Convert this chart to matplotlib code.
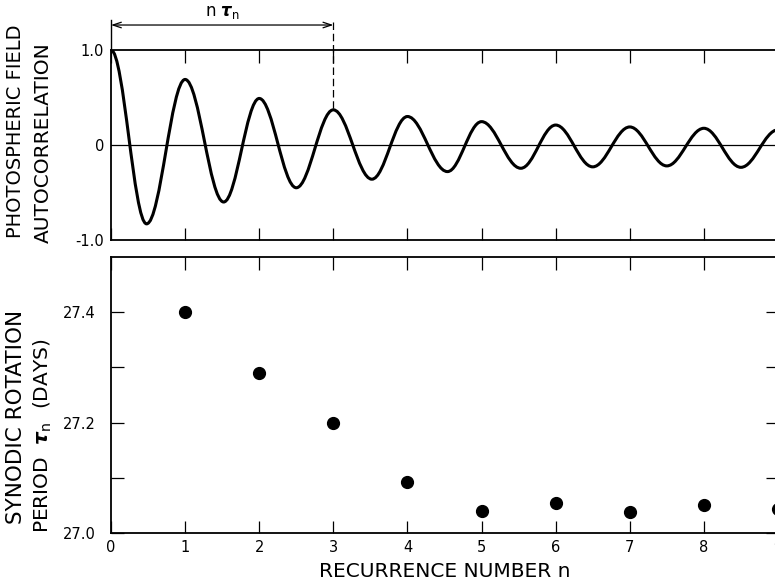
#!/usr/bin/env python

import numpy as np
import matplotlib.pyplot as plt
from matplotlib.path import Path
from matplotlib.patches import PathPatch

# autocorrelation: extrema of the curve (lag in rotations, value)
lag_ext = [0, 0.48, 1, 1.52, 2, 2.5, 3, 3.52, 4, 4.54, 5, 5.53, 6, 6.5, 7, 7.5, 8, 8.5, 9]
corr_ext = [1.0, -0.83, 0.69, -0.60, 0.49, -0.45, 0.37, -0.36, 0.30, -0.28, 0.246,
            -0.245, 0.21, -0.23, 0.19, -0.22, 0.176, -0.235, 0.16]

# synodic rotation period for each recurrence number
rec_n = [1, 2, 3, 4, 5, 6, 7, 8, 9]
period = [27.40, 27.29, 27.20, 27.093, 27.04, 27.054, 27.038, 27.05, 27.043]

plt.rcParams['font.family'] = 'DejaVu Sans'
# bold italic tau
plt.rcParams['mathtext.fontset'] = 'custom'
plt.rcParams['mathtext.it'] = 'DejaVu Sans:italic:bold'
plt.rcParams['mathtext.rm'] = 'DejaVu Sans'

fig = plt.figure(figsize=(7.75, 5.86), dpi=100)
W, H = 775, 586
left = 111 / W
right = 778 / W
ax1 = fig.add_axes([left, 1 - 240 / H, right - left, 190 / H])
ax2 = fig.add_axes([left, 1 - 533 / H, right - left, 276 / H])

# smooth curve through the extrema, horizontal tangents at each extremum
verts = [(lag_ext[0], corr_ext[0])]
codes = [Path.MOVETO]
for i in range(1, len(lag_ext)):
    x0, y0 = lag_ext[i - 1], corr_ext[i - 1]
    x1, y1 = lag_ext[i], corr_ext[i]
    c = 0.3634 * (x1 - x0)
    verts += [(x0 + c, y0), (x1 - c, y1), (x1, y1)]
    codes += [Path.CURVE4] * 3
ax1.add_patch(PathPatch(Path(verts, codes), fill=False, lw=2.2, color='black',
                        capstyle='round', joinstyle='round'))
ax1.axhline(0, color='black', lw=0.9)

ax1.set_xlim(0, 9)
ax1.set_ylim(-1, 1)
ax1.set_yticks([-1, 0, 1])
ax1.set_yticklabels(['-1.0', '0', '1.0'])
ax1.set_xticks(range(0, 10))
ax1.set_xticklabels([])
ax1.tick_params(axis='x', direction='in', top=True, bottom=True, length=9, width=0.9)
ax1.tick_params(axis='y', length=0, pad=5, labelsize=10.5)
ax1.spines['right'].set_visible(False)
for s in ['left', 'top', 'bottom']:
    ax1.spines[s].set_linewidth(1.3)

# n tau_n annotation
ax1.plot([0, 0], [1, 1.32], color='black', lw=1.0, clip_on=False)
ax1.plot([3, 3], [1.30, 0.37], color='black', lw=0.9, ls=(0, (6, 3)), clip_on=False)
ax1.annotate('', xy=(3, 1.263), xytext=(0, 1.263), annotation_clip=False,
             arrowprops=dict(arrowstyle='<->,head_length=0.6,head_width=0.2',
                             color='black', lw=0.9, shrinkA=0, shrinkB=0))
ax1.text(1.5, 1.40, r'n $\tau_{\rm n}$', ha='center', va='center', fontsize=12)

# bottom panel
ax2.plot(rec_n, period, 'o', color='black', ms=8.5, clip_on=False)
ax2.set_xlim(0, 9)
ax2.set_ylim(27.0, 27.5)
ax2.set_yticks([27.0, 27.1, 27.2, 27.3, 27.4])
ax2.set_yticklabels(['27.0', '', '27.2', '', '27.4'])
ax2.set_xticks(range(0, 10))
ax2.tick_params(axis='both', direction='in', top=True, right=True, length=9,
                width=0.9, labelsize=10.5)
ax2.tick_params(axis='y', pad=11)
ax2.tick_params(axis='x', pad=5)
for s in ['left', 'top', 'bottom', 'right']:
    ax2.spines[s].set_linewidth(1.3)

ax2.set_xlabel('RECURRENCE NUMBER n', fontsize=14.5, labelpad=5)

# y labels, two lines each
fig.text(16 / W, 1 - 131 / H, 'PHOTOSPHERIC FIELD', rotation=90, ha='center',
         va='center', fontsize=14)
fig.text(43 / W, 1 - 143 / H, 'AUTOCORRELATION', rotation=90, ha='center',
         va='center', fontsize=14.5)
fig.text(16 / W, 1 - 417 / H, 'SYNODIC ROTATION', rotation=90, ha='center',
         va='center', fontsize=15.5)
fig.text(43 / W, 1 - 436 / H, r'PERIOD  $\tau_{\rm n}$  (DAYS)', rotation=90,
         ha='center', va='center', fontsize=14.5)

plt.savefig('out.png', dpi=100)
plt.close(fig)
